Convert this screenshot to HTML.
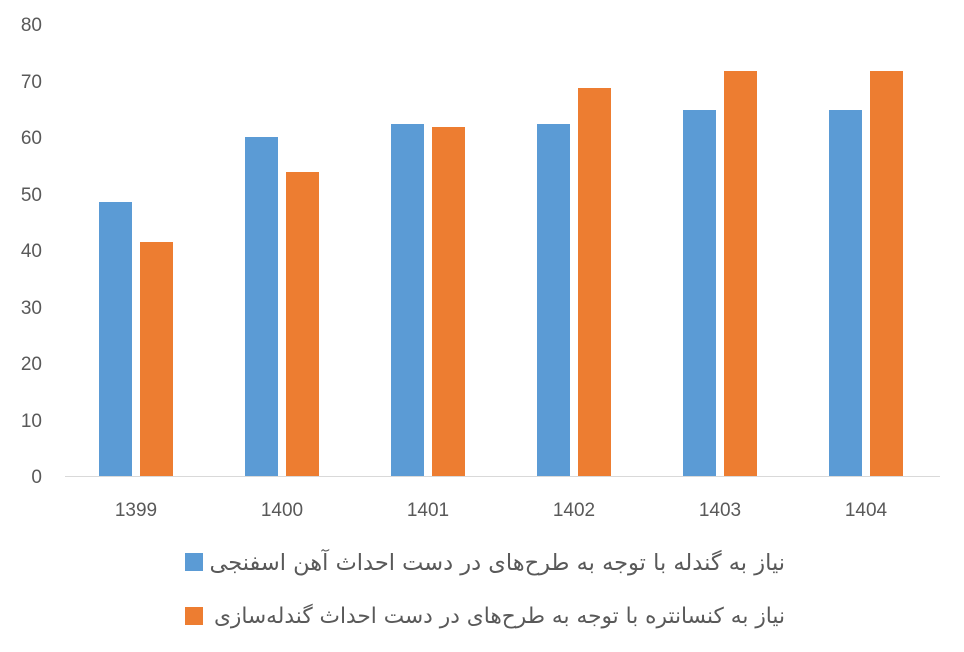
<!DOCTYPE html>
<html><head><meta charset="utf-8"><style>
body{margin:0;background:#fff;position:relative;width:964px;height:652px;overflow:hidden;}
svg text{font-family:"Liberation Sans","Noto Sans CJK SC",sans-serif;fill:#595959;}
.lg{position:absolute;right:179px;direction:rtl;white-space:nowrap;font-family:"DejaVu Sans","Noto Sans CJK SC",sans-serif;font-size:22.5px;color:#595959;line-height:26px;}
</style></head><body>
<svg width="964" height="652" xmlns="http://www.w3.org/2000/svg" style="position:absolute;left:0;top:0">
<rect width="964" height="652" fill="#fff"/>
<g font-size="19" text-anchor="end">
<text x="42" y="483">0</text>
<text x="42" y="427">10</text>
<text x="42" y="370">20</text>
<text x="42" y="314">30</text>
<text x="42" y="257">40</text>
<text x="42" y="201">50</text>
<text x="42" y="144">60</text>
<text x="42" y="88">70</text>
<text x="42" y="31">80</text>
</g>
<line x1="65" y1="476.5" x2="940" y2="476.5" stroke="#d9d9d9" stroke-width="1"/>
<g fill="#5B9BD5">
<rect x="99" y="202" width="33" height="274"/>
<rect x="245" y="137" width="33" height="339"/>
<rect x="391" y="124" width="33" height="352"/>
<rect x="537" y="124" width="33" height="352"/>
<rect x="683" y="110" width="33" height="366"/>
<rect x="829" y="110" width="33" height="366"/>
</g>
<g fill="#ED7D31">
<rect x="140" y="242" width="33" height="234"/>
<rect x="286" y="172" width="33" height="304"/>
<rect x="432" y="127" width="33" height="349"/>
<rect x="578" y="88" width="33" height="388"/>
<rect x="724" y="71" width="33" height="405"/>
<rect x="870" y="71" width="33" height="405"/>
</g>
<g font-size="19" text-anchor="middle">
<text x="136" y="516">1399</text>
<text x="282" y="516">1400</text>
<text x="428" y="516">1401</text>
<text x="574" y="516">1402</text>
<text x="720" y="516">1403</text>
<text x="866" y="516">1404</text>
</g>
<rect x="185" y="553" width="18" height="18" fill="#5B9BD5"/>
<rect x="185" y="607" width="18" height="18" fill="#ED7D31"/>
</svg>
<div class="lg" style="top:550px">نیاز به گندله با توجه به طرح‌های در دست احداث آهن اسفنجی</div>
<div class="lg" style="top:604px;font-size:21.7px">نیاز به کنسانتره با توجه به طرح‌های در دست احداث گندله‌سازی</div>
</body></html>
